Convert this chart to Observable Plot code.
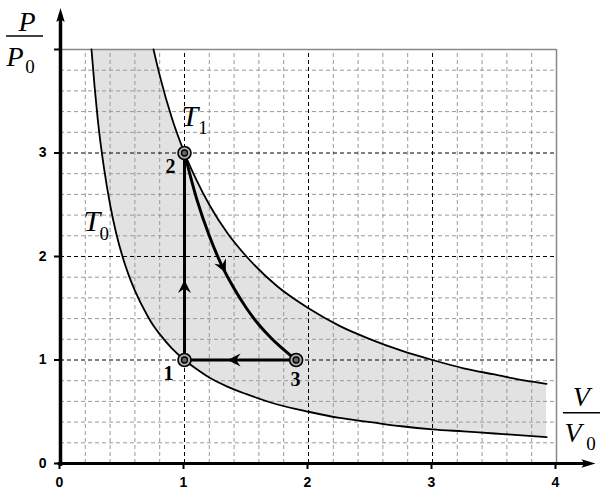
<!DOCTYPE html>
<html><head><meta charset="utf-8">
<script src="https://cdn.jsdelivr.net/npm/d3@7"></script>
<script src="https://cdn.jsdelivr.net/npm/@observablehq/plot@0.6"></script>
<style>body{margin:0;background:#fff}#chart svg{display:block}</style>
</head><body><div id="chart"></div>
<script>
// ---- data ----
const volumes    = [0.25,0.275,0.3,0.35,0.4,0.45,0.5,0.55,0.6,0.7,0.75,0.8,0.9,1,1.1,1.2,1.35,1.5,1.75,2,2.25,2.5,2.75,3,3.25,3.5,3.75,3.92];
const isothermT0 = [4.0,3.64,3.33,2.86,2.5,2.22,2.0,1.82,1.67,1.43,1.33,1.25,1.11,1.0,0.91,0.83,0.74,0.67,0.57,0.5,0.44,0.4,0.36,0.33,0.31,0.29,0.27,0.255];
const isothermT1 = [null,null,null,null,null,null,null,null,null,null,4.0,3.75,3.33,3.0,2.73,2.5,2.22,2.0,1.71,1.5,1.33,1.2,1.09,1.0,0.92,0.86,0.8,0.77];
const adiabatV   = [1,1.1,1.2,1.3,1.4,1.5,1.6,1.7,1.8,1.9];
const adiabatP   = [3,2.55,2.2,1.915,1.69,1.5,1.34,1.21,1.1,1.0];
const stateNames = ["1","2","3"];
const stateV     = [1,1,1.9];
const stateP     = [1,3,1];
const xTicks = [0,1,2,3,4];
const yTicks = [0,1,2,3,4];
const xMax = 4, yMax = 4;

// ---- derived tables ----
const band = volumes.map((v,i)=>({V:v, lo:isothermT0[i], hi:isothermT1[i] ?? yMax}));
const t0 = volumes.map((v,i)=>({V:v,P:isothermT0[i]}));
const t1 = volumes.map((v,i)=>({V:v,P:isothermT1[i]})).filter(d=>d.P!=null);
const adiabat = adiabatV.map((v,i)=>({V:v,P:adiabatP[i]}));
const states = stateNames.map((n,i)=>({name:n,V:stateV[i],P:stateP[i]}));
const iso12 = [states[0], states[1]];
const iso31 = [states[2], states[0]];
const minor = d3.range(1,20).map(k=>k/5).filter(v=>Math.abs(v-Math.round(v))>1e-6);
const major = [1,2,3];

// ---- arrowhead symbols ----
function head(tipK, wingX, wingY, notch){
  return {draw(ctx,size){const s=Math.sqrt(size/Math.PI);
    ctx.moveTo(0,-tipK*s);ctx.lineTo(wingX*s,wingY*s);ctx.lineTo(0,notch*s);ctx.lineTo(-wingX*s,wingY*s);ctx.closePath();}};
}
const axisHead = head(1,0.6,1,0.6);
const flowHead = head(1,1.0,1,0.3);

// annotation placement
const flowArrows = [{V:1,P:1.71,rot:0},{V:1.31,P:1.9,rot:154},{V:1.4,P:1,rot:270}];
const axisArrows = [{V:4.258,P:0,rot:90},{V:0,P:4.334,rot:0}];
const bigItalic = [{t:"P",V:-0.27,P:4.18,a:"middle"},{t:"P",V:-0.435,P:3.84,a:"start"},
                   {t:"V",V:4.2,P:0.56,a:"middle"},{t:"V",V:4.065,P:0.212,a:"start"}];
const tItalic = [{t:"T",V:0.975,P:3.26},{t:"T",V:0.185,P:2.25}];
const subs = [{t:"0",V:-0.285,P:3.77},{t:"0",V:4.24,P:0.135},{t:"1",V:1.11,P:3.18},{t:"0",V:0.315,P:2.16}];
const fracLines = [{x1:-0.435,x2:-0.137,y:4.13},{x1:4.056,x2:4.355,y:0.49}];
const stateLabels = [{t:"1",V:0.87,P:0.81},{t:"2",V:0.887,P:2.81},{t:"3",V:1.895,P:0.753}];

const serif = "'Liberation Serif','Times New Roman',serif";
const sans = "'Liberation Sans',Arial,sans-serif";

const chart = Plot.plot({
  width:604, height:500,
  marginLeft:60, marginRight:48, marginTop:49, marginBottom:37,
  x:{domain:[0,xMax]}, y:{domain:[0,yMax]},
  style:{background:"#fff", overflow:"visible"},
  marks:[
    Plot.areaY(band,{x:"V",y1:"lo",y2:"hi",fill:"#e2e2e2",curve:"monotone-x"}),
    Plot.ruleX(minor,{y1:0,y2:yMax,stroke:"#999",strokeWidth:1,strokeDasharray:"4,3"}),
    Plot.ruleY(minor,{x1:0,x2:xMax,stroke:"#999",strokeWidth:1,strokeDasharray:"4,3"}),
    Plot.ruleX(major,{y1:0,y2:yMax,stroke:"#000",strokeWidth:1,strokeDasharray:"4,3"}),
    Plot.ruleY(major,{x1:0,x2:xMax,stroke:"#000",strokeWidth:1,strokeDasharray:"4,3"}),
    Plot.ruleY([yMax],{x1:0,x2:xMax,stroke:"#888",strokeWidth:1.5}),
    Plot.ruleX([xMax],{y1:0,y2:yMax,stroke:"#888",strokeWidth:1.5}),
    Plot.line(t0,{x:"V",y:"P",stroke:"#000",strokeWidth:1.8,curve:"monotone-x"}),
    Plot.line(t1,{x:"V",y:"P",stroke:"#000",strokeWidth:1.8,curve:"monotone-x"}),
    Plot.line(iso12,{x:"V",y:"P",stroke:"#000",strokeWidth:3}),
    Plot.line(iso31,{x:"V",y:"P",stroke:"#000",strokeWidth:3}),
    Plot.line(adiabat,{x:"V",y:"P",stroke:"#000",strokeWidth:3,curve:"catmull-rom"}),
    Plot.dot(flowArrows,{x:"V",y:"P",rotate:"rot",r:6.5,symbol:flowHead,fill:"#000",stroke:"none"}),
    Plot.dot(states,{x:"V",y:"P",r:6.5,fill:"#aaa",stroke:"#000",strokeWidth:1.6}),
    Plot.dot(states,{x:"V",y:"P",r:3,fill:"#666",stroke:"#000",strokeWidth:1.3}),
    // axes
    Plot.ruleY([0],{x1:-0.02,x2:4.258,stroke:"#000",strokeWidth:3}),
    Plot.ruleX([0],{y1:-0.03,y2:4.334,stroke:"#000",strokeWidth:3.5}),
    Plot.dot(axisArrows,{x:"V",y:"P",rotate:"rot",r:7,symbol:axisHead,fill:"#000",stroke:"none"}),
    Plot.axisX({ticks:xTicks,tickSize:6,tickPadding:8,strokeWidth:2,fontSize:14,fontWeight:"bold",fontFamily:sans,label:null,tickFormat:d=>String(d),dx:-1}),
    Plot.axisY({ticks:yTicks,tickSize:6,tickPadding:8,strokeWidth:2,fontSize:14,fontWeight:"bold",fontFamily:sans,label:null,tickFormat:d=>d===yMax?"":String(d)}),
    // labels
    Plot.ruleY(fracLines,{x1:"x1",x2:"x2",y:"y",stroke:"#000",strokeWidth:1.5}),
    Plot.text(bigItalic,{x:"V",y:"P",text:"t",textAnchor:"start",lineAnchor:"bottom",fontSize:28,fontStyle:"italic",fontFamily:serif,fill:"#000",filter:d=>d.a==="start"}),
    Plot.text(bigItalic,{x:"V",y:"P",text:"t",textAnchor:"middle",lineAnchor:"bottom",fontSize:28,fontStyle:"italic",fontFamily:serif,fill:"#000",filter:d=>d.a==="middle"}),
    Plot.text(tItalic,{x:"V",y:"P",text:"t",textAnchor:"start",lineAnchor:"bottom",fontSize:30,fontStyle:"italic",fontFamily:serif,fill:"#000"}),
    Plot.text(subs,{x:"V",y:"P",text:"t",textAnchor:"start",lineAnchor:"bottom",fontSize:19,fontFamily:serif,fill:"#000"}),
    Plot.text(stateLabels,{x:"V",y:"P",text:"t",textAnchor:"middle",lineAnchor:"bottom",fontSize:20,fontWeight:"bold",fontFamily:serif,fill:"#000"})
  ]
});
document.getElementById("chart").appendChild(chart);
</script></body></html>
